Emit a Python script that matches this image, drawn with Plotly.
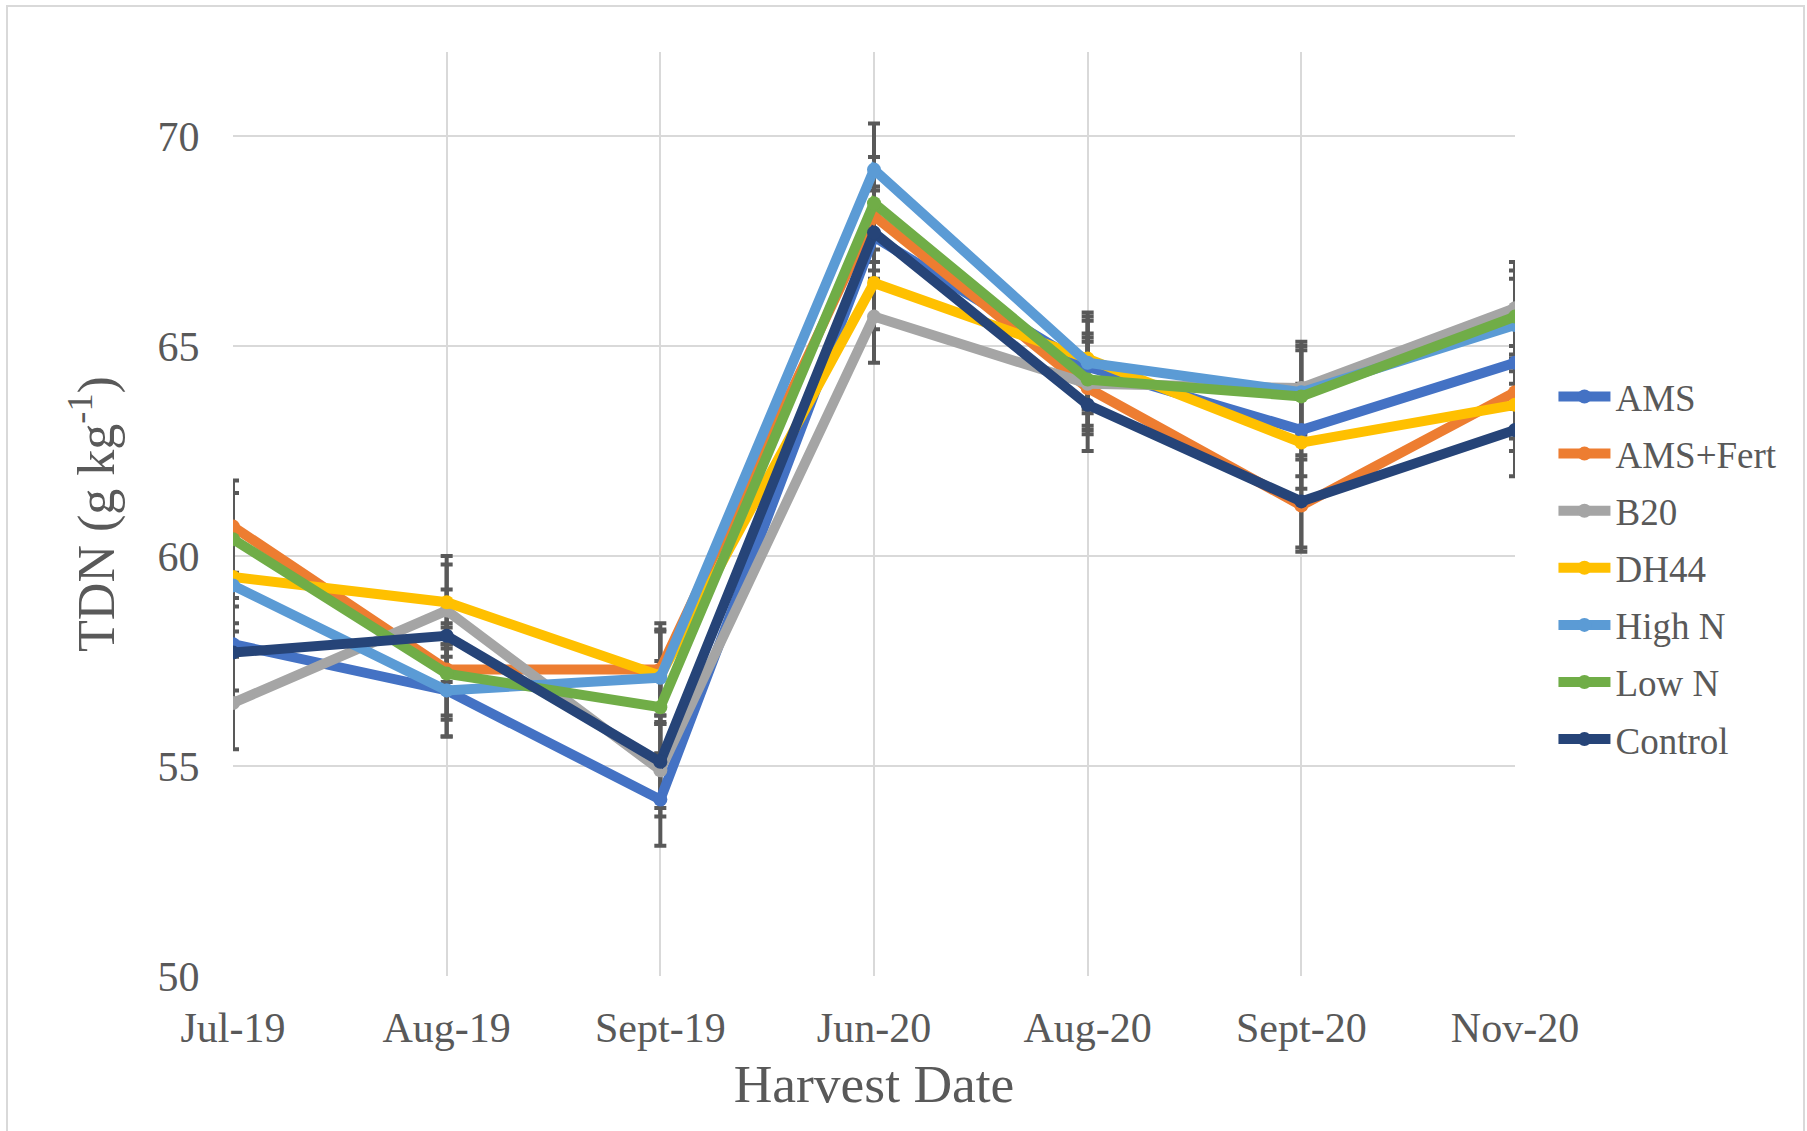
import plotly.graph_objects as go

categories = ["Jul-19", "Aug-19", "Sept-19", "Jun-20", "Aug-20", "Sept-20", "Nov-20"]

series_names = ["AMS", "AMS+Fert", "B20", "DH44", "High N", "Low N", "Control"]

ams      = [57.9, 56.8, 54.2, 67.6, 64.5, 63.0, 64.6]
ams_fert = [60.7, 57.3, 57.3, 68.1, 64.0, 61.2, 63.9]
b20      = [56.5, 58.7, 54.9, 65.7, 64.1, 64.0, 65.9]
dh44     = [59.5, 58.9, 57.15, 66.5, 64.7, 62.7, 63.6]
high_n   = [59.3, 56.8, 57.1, 69.2, 64.6, 63.9, 65.5]
low_n    = [60.4, 57.2, 56.4, 68.4, 64.2, 63.8, 65.7]
control  = [57.7, 58.1, 55.1, 67.7, 63.6, 61.3, 63.0]

errors = [1.1, 1.1, 1.1, 1.1, 1.1, 1.1, 1.1]

colors = ["#4472C4", "#ED7D31", "#A5A5A5", "#FFC000", "#5B9BD5", "#70AD47", "#264478"]

all_series = [ams, ams_fert, b20, dh44, high_n, low_n, control]

FONT = "Liberation Serif, Times New Roman, serif"
TXT = "#595959"
GRID = "#D9D9D9"

fig = go.Figure()

# error bars first (drawn behind the lines)
for name, vals in zip(series_names, all_series):
    fig.add_trace(go.Scatter(
        x=categories, y=vals, mode="markers",
        marker=dict(size=1, color="rgba(0,0,0,0)"),
        error_y=dict(type="data", array=errors, visible=True,
                     color="#595959", thickness=4, width=6),
        showlegend=False, hoverinfo="skip",
    ))

for i, (name, vals, col) in enumerate(zip(series_names, all_series, colors)):
    fig.add_trace(go.Scatter(
        x=categories, y=vals, mode="lines+markers", name=name,
        legendgroup=f"g{i}",
        line=dict(color=col, width=10),
        marker=dict(color=col, size=14),
    ))

fig.update_layout(
    width=1807, height=1131,
    margin=dict(l=233, r=292, t=52, b=155),
    paper_bgcolor="white", plot_bgcolor="white",
    font=dict(family=FONT, color=TXT, size=42),
    showlegend=True,
    legend=dict(
        x=1.03, xanchor="left", y=0.4416, yanchor="middle",
        font=dict(family=FONT, size=37, color=TXT),
        tracegroupgap=6, itemwidth=52,
        bgcolor="rgba(0,0,0,0)",
    ),
    xaxis=dict(
        type="category", range=[0, 6],
        showgrid=True, gridcolor=GRID, gridwidth=2,
        showline=False, zeroline=False,
        ticks="outside", ticklen=15, tickcolor="rgba(0,0,0,0)",
        tickfont=dict(family=FONT, size=42, color=TXT),
        title=dict(text="Harvest Date", font=dict(family=FONT, size=53.5, color=TXT), standoff=14),
        automargin=False,
    ),
    yaxis=dict(
        range=[50, 72], tickvals=[50, 55, 60, 65, 70],
        showgrid=True, gridcolor=GRID, gridwidth=2,
        showline=False, zeroline=False,
        ticks="outside", ticklen=24, tickcolor="rgba(0,0,0,0)",
        tickfont=dict(family=FONT, size=42, color=TXT),
        title=dict(text="TDN (g kg<sup>-1</sup>)", font=dict(family=FONT, size=52, color=TXT), standoff=26),
        automargin=False,
    ),
    shapes=[
        dict(type="rect", xref="paper", yref="paper",
             x0=(7 - 233) / 1282, x1=(1804 - 233) / 1282,
             y0=(976 - 1140) / 924, y1=(976 - 6) / 924,
             line=dict(color=GRID, width=2), fillcolor="rgba(0,0,0,0)", layer="below"),
    ],
)

fig.write_html("out.html")
